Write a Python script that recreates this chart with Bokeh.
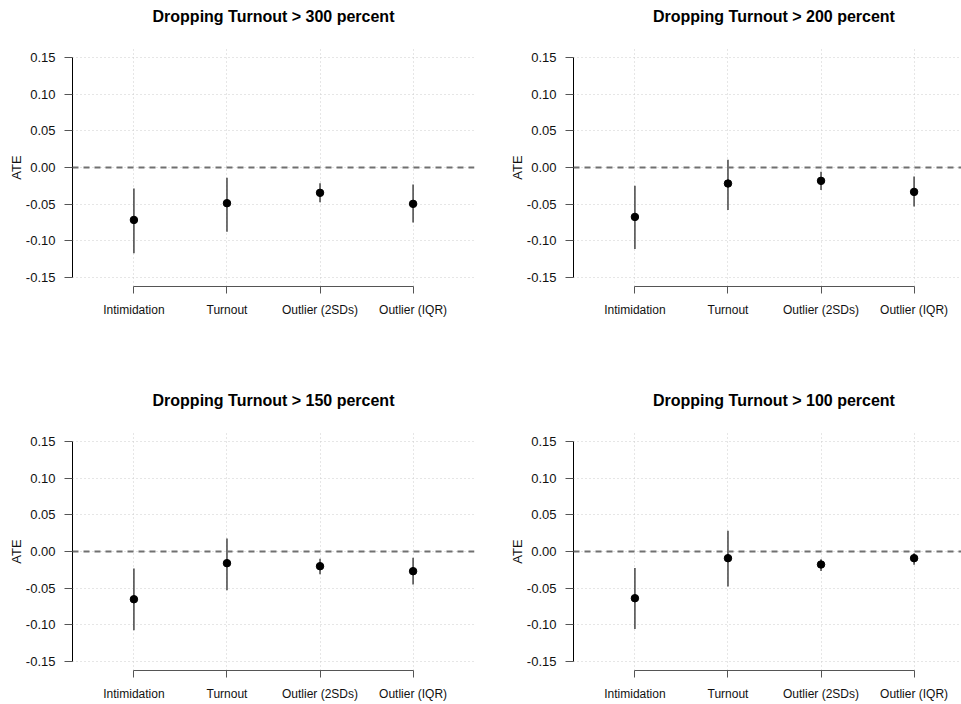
from bokeh.plotting import figure
from bokeh.models import Range1d, FixedTicker, Span, Title, ColumnDataSource, PrintfTickFormatter
from bokeh.layouts import column, row
from bokeh.embed import file_html
from bokeh.resources import INLINE

# ---------------- data ----------------
categories = ["Intimidation", "Turnout", "Outlier (2SDs)", "Outlier (IQR)"]
y_ticks = [-0.15, -0.10, -0.05, 0.00, 0.05, 0.10, 0.15]

title_300 = "Dropping Turnout > 300 percent"
ate_300 = [-0.0714, -0.0486, -0.0345, -0.0495]
lo_300 = [-0.1168, -0.0873, -0.0473, -0.0750]
hi_300 = [-0.0286, -0.0141, -0.0214, -0.0232]

title_200 = "Dropping Turnout > 200 percent"
ate_200 = [-0.0673, -0.0218, -0.0182, -0.0332]
lo_200 = [-0.1110, -0.0577, -0.0305, -0.0532]
hi_200 = [-0.0250, 0.0105, -0.0059, -0.0123]

title_150 = "Dropping Turnout > 150 percent"
ate_150 = [-0.0650, -0.0159, -0.0200, -0.0268]
lo_150 = [-0.1073, -0.0527, -0.0309, -0.0450]
hi_150 = [-0.0232, 0.0177, -0.0100, -0.0086]

title_100 = "Dropping Turnout > 100 percent"
ate_100 = [-0.0636, -0.0091, -0.0177, -0.0091]
lo_100 = [-0.1055, -0.0477, -0.0264, -0.0182]
hi_100 = [-0.0223, 0.0282, -0.0105, -0.0023]

FONT = "Liberation Sans"
X_START = 0.34
PX_PER_UNIT = 402 / 4.32


def make_panel(title, ate, lo, hi, width, height, left, right, top, bottom,
               title_align="center", title_offset=0):
    frame_w = width - left - right
    x_end = X_START + frame_w / PX_PER_UNIT
    x_pos = list(range(1, len(categories) + 1))
    p = figure(width=width, height=height, output_backend="svg", toolbar_location=None,
               title=None,
               x_range=Range1d(X_START, x_end), y_range=Range1d(-0.162, 0.162),
               min_border_left=left, min_border_right=right,
               min_border_top=top, min_border_bottom=bottom,
               outline_line_color=None, background_fill_color="white",
               border_fill_color="white")

    xa = p.xaxis[0]
    xa.ticker = FixedTicker(ticks=x_pos)
    xa.major_label_overrides = {x: c for x, c in zip(x_pos, categories)}
    xa.bounds = (x_pos[0], x_pos[-1])
    xa.minor_tick_line_color = None
    xa.major_tick_in = 0
    xa.major_tick_out = 7
    xa.axis_line_color = "#555555"
    xa.major_tick_line_color = "#555555"
    xa.major_label_text_font = FONT
    xa.major_label_text_font_size = "12px"
    xa.major_label_text_color = "#111111"
    xa.major_label_standoff = 9

    ya = p.yaxis[0]
    ya.ticker = FixedTicker(ticks=y_ticks)
    ya.formatter = PrintfTickFormatter(format="%.2f")
    ya.bounds = (y_ticks[0], y_ticks[-1])
    ya.minor_tick_line_color = None
    ya.major_tick_in = 0
    ya.major_tick_out = 8
    ya.axis_line_color = "black"
    ya.major_tick_line_color = "#555555"
    ya.major_label_text_font = FONT
    ya.major_label_text_font_size = "13px"
    ya.major_label_text_color = "#111111"
    ya.major_label_standoff = 9
    ya.axis_label = "ATE"
    ya.axis_label_text_font = FONT
    ya.axis_label_text_font_size = "13px"
    ya.axis_label_text_font_style = "normal"
    ya.axis_label_text_color = "#111111"
    ya.axis_label_standoff = -1

    p.xgrid.ticker = FixedTicker(ticks=x_pos)
    p.ygrid.ticker = FixedTicker(ticks=y_ticks)
    for g in (p.xgrid, p.ygrid):
        g.grid_line_color = "#cccccc"
        g.grid_line_dash = "1 3"
        g.grid_line_width = 1

    p.add_layout(Span(location=0, dimension="width", line_color="#707070",
                      line_dash="6 5", line_width=2))

    src = ColumnDataSource(dict(x=x_pos, ate=ate, lo=lo, hi=hi))
    p.segment(x0="x", y0="lo", x1="x", y1="hi", source=src,
              line_color="#444444", line_width=1.5)
    p.scatter(x="x", y="ate", source=src, size=7.5, color="black")

    # spacer (nearest the frame), then the real title above it
    p.add_layout(Title(text=" ", text_font_size="1px", standoff=21), "above")
    p.add_layout(Title(text=title, align=title_align, offset=title_offset,
                       vertical_align="bottom", standoff=0,
                       text_font=FONT, text_font_style="bold",
                       text_font_size="16px", text_color="black"), "above")
    return p


p1 = make_panel(title_300, ate_300, lo_300, hi_300, 480, 352, 72, 6, 48, 66)
p2 = make_panel(title_200, ate_200, lo_200, hi_200, 481, 352, 93, 0, 48, 66,
                title_align="left", title_offset=79.5)
p3 = make_panel(title_150, ate_150, lo_150, hi_150, 480, 352, 72, 6, 80, 34)
p4 = make_panel(title_100, ate_100, lo_100, hi_100, 481, 352, 93, 0, 80, 34,
                title_align="left", title_offset=79.5)

layout = column(row(p1, p2), row(p3, p4))

with open("out.html", "w") as f:
    f.write(file_html(layout, INLINE))
